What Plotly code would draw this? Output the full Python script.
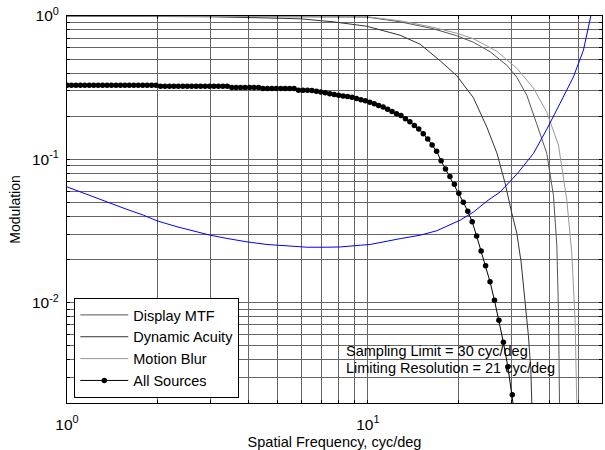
import plotly.graph_objects as go

# ---------------- data ----------------
# All Sources (markers)
freq_all = [1.000, 1.035, 1.071, 1.108, 1.146, 1.186, 1.227, 1.269, 1.313, 1.359,
            1.406, 1.455, 1.505, 1.557, 1.611, 1.667, 1.725, 1.785, 1.847, 1.911,
            1.977, 2.046, 2.116, 2.190, 2.266, 2.344, 2.426, 2.510, 2.597, 2.687,
            2.780, 2.876, 2.976, 3.079, 3.186, 3.296, 3.410, 3.529, 3.651, 3.777,
            3.908, 4.044, 4.184, 4.329, 4.479, 4.634, 4.795, 4.961, 5.133, 5.311,
            5.495, 5.686, 5.883, 6.087, 6.298, 6.516, 6.742, 6.976, 7.218, 7.468,
            7.727, 7.995, 8.272, 8.559, 8.855, 9.162, 9.480, 9.808, 10.15, 10.50,
            10.86, 11.24, 11.63, 12.03, 12.45, 12.88, 13.33, 13.79, 14.27, 14.76,
            15.28, 15.81, 16.35, 16.92, 17.51, 18.11, 18.74, 19.39, 20.06, 20.76,
            21.48, 22.22, 22.99, 23.79, 24.62, 25.47, 26.35, 27.26, 28.21, 29.19,
            30.20, 31.25]
mod_all = [0.329, 0.329, 0.329, 0.329, 0.329, 0.329, 0.329, 0.329, 0.329, 0.329,
           0.329, 0.329, 0.329, 0.329, 0.329, 0.329, 0.329, 0.329, 0.329, 0.329,
           0.329, 0.324, 0.324, 0.324, 0.324, 0.324, 0.324, 0.324, 0.324, 0.324,
           0.324, 0.324, 0.324, 0.324, 0.324, 0.324, 0.324, 0.317, 0.317, 0.317,
           0.317, 0.317, 0.317, 0.317, 0.312, 0.312, 0.312, 0.312, 0.312, 0.312,
           0.312, 0.312, 0.304, 0.304, 0.304, 0.302, 0.299, 0.295, 0.291, 0.287,
           0.283, 0.280, 0.277, 0.274, 0.271, 0.266, 0.261, 0.256, 0.250, 0.244,
           0.238, 0.232, 0.224, 0.216, 0.208, 0.202, 0.192, 0.183, 0.1725, 0.163,
           0.151, 0.139, 0.126, 0.114, 0.0977, 0.0857, 0.0760, 0.0671, 0.0580, 0.0502,
           0.0434, 0.0367, 0.0292, 0.0230, 0.0181, 0.0140, 0.0104, 0.00754, 0.00530, 0.00358,
           0.00228, 0.0013]

# Dynamic Acuity (inner grey curve)
freq_da = [1.0, 2.0, 2.99, 4.06, 5.96, 7.67, 9.93, 12.8, 14.92, 17.39, 19.75, 22.43,
           24.85, 26.83, 28.58, 30.09, 31.26, 32.31, 33.31, 34.17, 34.80, 35.07, 35.4]
mod_da = [0.999, 0.996, 0.988, 0.975, 0.956, 0.911, 0.848, 0.734, 0.635, 0.487, 0.383, 0.269,
          0.168, 0.111, 0.0683, 0.0421, 0.0306, 0.0192, 0.0104, 0.00588, 0.00341, 0.0020, 0.0010]

# Display MTF (middle grey curve)
freq_mtf = [1.0, 5.96, 9.93, 12.8, 16.48, 19.75, 22.43, 25.49, 28.96, 31.26, 33.75,
            36.43, 39.33, 41.37, 42.46, 42.99, 43.32, 43.5]
mod_mtf = [0.999, 0.995, 0.983, 0.911, 0.815, 0.728, 0.656, 0.563, 0.453, 0.374, 0.280,
           0.176, 0.110, 0.0563, 0.0253, 0.0089, 0.0020, 0.0010]

# Motion Blur (outer grey curve)
freq_mb = [1.0, 9.93, 12.8, 16.48, 19.75, 22.43, 26.83, 31.26, 35.50, 39.33, 42.99,
           45.83, 47.61, 48.83, 49.47, 49.7]
mod_mb = [0.999, 0.988, 0.926, 0.834, 0.758, 0.694, 0.568, 0.432, 0.314, 0.213, 0.126,
          0.052, 0.0222, 0.00758, 0.0020, 0.0010]

# Threshold (blue curve)
freq_thr = [1.0, 1.107, 1.226, 1.393, 1.582, 1.797, 1.991, 2.320, 2.634, 2.993, 3.401,
            3.963, 4.619, 5.382, 6.271, 7.308, 8.091, 9.428, 10.18, 12.80, 14.92, 16.96,
            20.26, 22.43, 24.85, 27.51, 31.26, 35.50, 39.33, 43.54, 48.21, 52.04, 55.07, 58.0]
mod_thr = [0.0643, 0.0593, 0.0548, 0.0493, 0.0448, 0.0408, 0.0373, 0.0339, 0.0316, 0.0296,
           0.0281, 0.0266, 0.0255, 0.0248, 0.0244, 0.0244, 0.0245, 0.0252, 0.0255, 0.0280,
           0.0296, 0.0318, 0.0377, 0.0429, 0.0511, 0.0593, 0.0788, 0.1099, 0.1623, 0.2463,
           0.3757, 0.5768, 1.0, 1.45]

x_tickvals = [1, 2, 3, 4, 5, 6, 7, 8, 9, 10, 20, 30, 40, 50, 60]
x_ticktext = ["10<sup>0</sup>", "", "", "", "", "", "", "", "", "10<sup>1</sup>", "", "", "", "", ""]
y_tickvals = [0.002, 0.003, 0.004, 0.005, 0.006, 0.007, 0.008, 0.009, 0.01,
              0.02, 0.03, 0.04, 0.05, 0.06, 0.07, 0.08, 0.09, 0.1,
              0.2, 0.3, 0.4, 0.5, 0.6, 0.7, 0.8, 0.9, 1.0]
y_ticktext = ["", "", "", "", "", "", "", "", "10<sup>-2</sup>",
              "", "", "", "", "", "", "", "", "10<sup>-1</sup>",
              "", "", "", "", "", "", "", "", "10<sup>0</sup>"]

annot_lines = ["Sampling Limit = 30 cyc/deg", "Limiting Resolution = 21 cyc/deg"]

# ---------------- figure ----------------
FONT = "Arial, Liberation Sans, sans-serif"
FS = 14.5
fig = go.Figure()

fig.add_trace(go.Scatter(x=freq_mtf, y=mod_mtf, mode="lines", name="Display MTF",
                         line=dict(color="#555555", width=1)))
fig.add_trace(go.Scatter(x=freq_da, y=mod_da, mode="lines", name="Dynamic Acuity",
                         line=dict(color="#333333", width=1)))
fig.add_trace(go.Scatter(x=freq_mb, y=mod_mb, mode="lines", name="Motion Blur",
                         line=dict(color="#999999", width=1)))
fig.add_trace(go.Scatter(x=freq_all, y=mod_all, mode="lines+markers", name="All Sources",
                         line=dict(color="black", width=1),
                         marker=dict(color="black", size=5.5, symbol="circle")))
fig.add_trace(go.Scatter(x=freq_thr, y=mod_thr, mode="lines", showlegend=False,
                         line=dict(color="#0000ff", width=1)))

grid_color = "#666666"
fig.update_xaxes(type="log", range=[0, 1.77815], tickvals=x_tickvals, ticktext=x_ticktext,
                 showgrid=True, gridcolor=grid_color, gridwidth=1,
                 showline=True, linecolor="black", linewidth=1, mirror="ticks",
                 ticks="inside", ticklen=3, tickcolor="black",
                 ticklabelstandoff=7,
                 tickfont=dict(family=FONT, size=15.5, color="black"),
                 title=dict(text="Spatial Frequency, cyc/deg", standoff=5,
                            font=dict(family=FONT, size=14.5, color="black")),
                 zeroline=False)
fig.update_yaxes(type="log", range=[-2.69897, 0], tickvals=y_tickvals, ticktext=y_ticktext,
                 showgrid=True, gridcolor=grid_color, gridwidth=1,
                 showline=True, linecolor="black", linewidth=1, mirror="ticks",
                 ticks="inside", ticklen=3, tickcolor="black",
                 ticklabelstandoff=4,
                 tickfont=dict(family=FONT, size=15.5, color="black"),
                 title=dict(text="Modulation", standoff=8,
                            font=dict(family=FONT, size=14, color="black")),
                 zeroline=False)

fig.add_annotation(text=annot_lines[0], xref="paper", yref="paper", x=0.518, y=0.135,
                   xanchor="left", yanchor="middle", showarrow=False,
                   font=dict(family=FONT, size=FS, color="black"))
fig.add_annotation(text=annot_lines[1], xref="paper", yref="paper", x=0.518, y=0.0896,
                   xanchor="left", yanchor="middle", showarrow=False,
                   font=dict(family=FONT, size=FS, color="black"))

fig.update_layout(
    width=605, height=450,
    margin=dict(l=67, r=3, t=16, b=47),
    paper_bgcolor="white", plot_bgcolor="white",
    font=dict(family=FONT, size=FS, color="black"),
    legend=dict(x=0.0136, y=0.013, xanchor="left", yanchor="bottom",
                bgcolor="white", bordercolor="black", borderwidth=1,
                itemwidth=48, font=dict(family=FONT, size=FS, color="black"),
                tracegroupgap=0),
)

fig.write_html("out.html")
